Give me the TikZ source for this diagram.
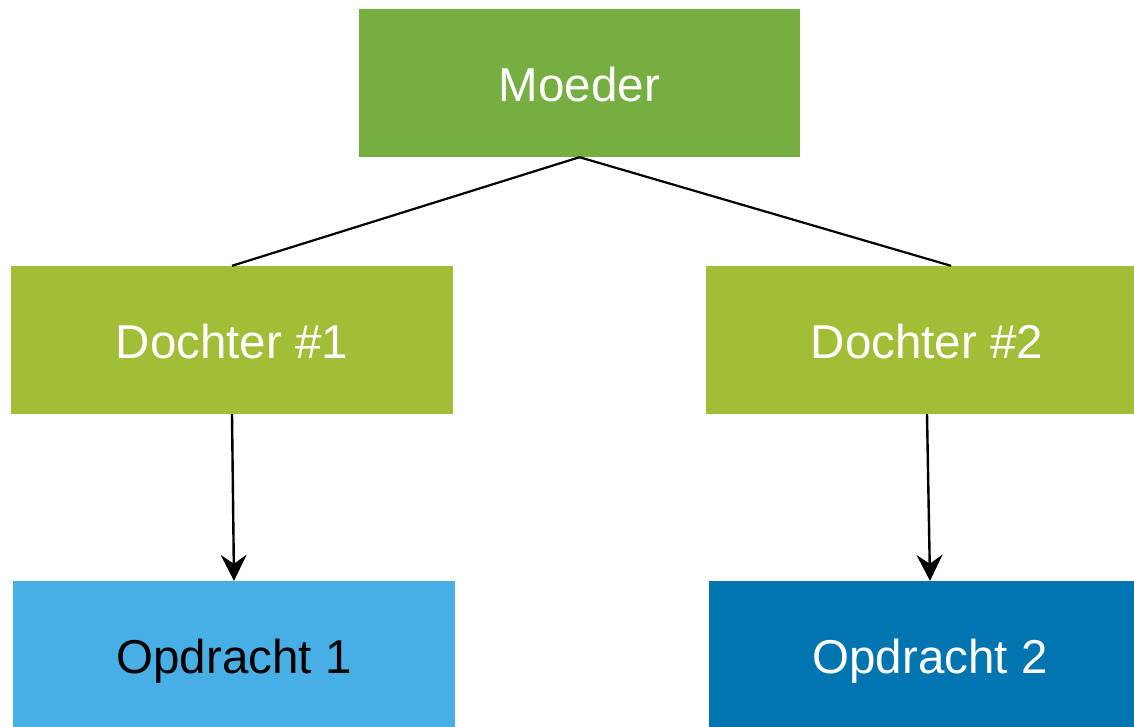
\documentclass[tikz,border=0pt]{standalone}
\usepackage{fontspec}
\setmainfont{Liberation Sans}
\usetikzlibrary{arrows.meta}

\definecolor{moedergroen}{HTML}{77AE41}
\definecolor{dochtergroen}{HTML}{A2BE36}
\definecolor{lichtblauw}{HTML}{47AFE6}
\definecolor{donkerblauw}{HTML}{0075B0}

\begin{document}
\begin{tikzpicture}[x=1pt,y=-1pt]
        % Define the style for the boxes
        \tikzstyle{blok}=[rectangle, minimum width=442pt, minimum height=148pt, inner sep=0pt,
            text height=36pt, text depth=0pt, font=\fontsize{47.5}{57}\selectfont, text=white]
        \tikzstyle{lijn}=[line width=2.2pt]
        \tikzstyle{pijl}=[line width=2.4pt, -{Stealth[length=26pt, width=26pt, inset=9pt]}]

        \useasboundingbox (0,0) rectangle (1134,726);
        \clip (0,0) rectangle (1134,726);

        % Define the nodes
        \node[blok, fill=moedergroen, minimum width=441pt] (moeder) at (579.5,83) {Moeder};
        \node[blok, fill=dochtergroen] (dochter1) at (232,340) {Dochter \#1};
        \node[blok, fill=dochtergroen] (dochter2) at (927,340) {Dochter \#2};
        \node[blok, fill=lichtblauw, text=black] (opdracht1) at (234,655) {Opdracht 1};
        \node[blok, fill=donkerblauw] (opdracht2) at (930,655) {Opdracht 2};

        % Define the connectors
        \draw[lijn] (moeder.south) -- (dochter1.north);
        \draw[lijn] (moeder.south) -- ([xshift=24pt]dochter2.north);
        \draw[pijl] (dochter1.south) -- (opdracht1.north);
        \draw[pijl] (dochter2.south) -- (opdracht2.north);
    \end{tikzpicture}
\end{document}
